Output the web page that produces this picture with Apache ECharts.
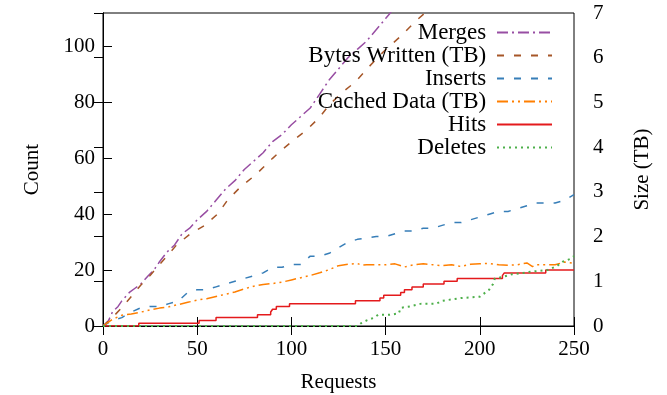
<!DOCTYPE html>
<html>
<head>
<meta charset="utf-8">
<script src="https://cdn.jsdelivr.net/npm/echarts@6/dist/echarts.min.js"></script>
<style>
html,body{margin:0;padding:0;background:#fff;}
#chart{width:667px;height:395px;}
</style>
</head>
<body>
<div id="chart"></div>
<script>
// ---- data (x = requests) ----
var xTicks = [0, 50, 100, 150, 200, 250];
var countTicks = [0, 20, 40, 60, 80, 100];
var sizeTicks = [0, 1, 2, 3, 4, 5, 6, 7];

var seriesNames = ['Merges', 'Bytes Written (TB)', 'Inserts', 'Cached Data (TB)', 'Hits', 'Deletes'];

var mergesX = [0,3,5,8,10,14,17,20,24,27,30,34,38,42,46,50,55,60,65,70,75,80,85,90,95,100,105,110,115,120,125,130,135,140,145,150,155];
var mergesY = [0,2,5,7,9,12,13.5,15,18,20,23,26.5,29,33,35,38,41,45,49,52,56,59,62,66,68.5,72,75,78,83,88,92,96,99,102,106,110,114];

var bytesX = [0,5,10,13,20,25,32,39,46,54,61,66,73,81,90,95,101,108,115,120,126,134,141,149,158,166,172,176];
var bytesTB = [0,0.19,0.41,0.56,0.91,1.13,1.47,1.81,2.05,2.25,2.51,2.81,3.11,3.38,3.75,3.94,4.15,4.38,4.67,4.94,5.19,5.46,5.79,6.14,6.48,6.82,7.04,7.2];

var insertsX = [0,5,10,15,20,25,30,35,40,45,50,55,60,65,70,75,80,85,90,95,100,105,110,115,120,125,130,135,140,145,150,155,160,165,170,175,180,185,190,195,200,205,210,215,220,225,230,235,240,245,250];
var insertsY = [0,2,3,5,6.5,7,7,8,9,12,13,13,14,15,16,17,18,19,21,21,22,22,25,25,26,28,30,31,31.5,32,32,33,34,34,35,35,36,37,37,38,39,40,41,41,42,43,44,44,44,45,47];

var cachedX = [0,5,10,15,20,25,30,35,40,45,50,55,60,65,70,75,80,85,90,95,100,105,110,115,120,125,130,135,137,140,145,150,155,160,165,170,175,180,185,190,195,200,205,210,215,220,225,228,230,235,240,245,250];
var cachedTB = [0,0.15,0.24,0.27,0.31,0.36,0.40,0.43,0.48,0.53,0.58,0.61,0.66,0.71,0.76,0.83,0.89,0.93,0.95,0.98,1.03,1.08,1.13,1.19,1.26,1.35,1.38,1.40,1.36,1.37,1.37,1.37,1.39,1.32,1.37,1.39,1.37,1.35,1.37,1.33,1.38,1.39,1.40,1.37,1.36,1.37,1.41,1.33,1.37,1.37,1.37,1.43,1.40];

var hitsX = [0,19,51,60,82,89,90,92,99,134,147,149,158,160,164,170,181,188,212,213,235,250];
var hitsY = [0,1,2,3,4,5,6,7,8,9,10,11,12,13,14,15,16,17,18,19,20,20];

var deletesX = [0,135,137,140,144,146,152,157,158,163,169,177,180,190,200,203,205,207,208,212,217,223,228,236,241,244,248,250];
var deletesY = [0,0,1,2,3,4,4,4.5,6.5,7,8,8,9,10,10.5,12,13,15,17,17.5,18.5,19,19.5,20,21.5,23,24,25];

function pairs(xs, ys){ return xs.map(function(x,i){ return [x, ys[i]]; }); }

var FONT = 'Liberation Serif';
var FS = 21;

var chart = echarts.init(document.getElementById('chart'), null, {renderer:'canvas'});
var tickStyle = {show:true, inside:true, length:9, lineStyle:{color:'#000', width:1}};
var axisLine = {show:true, lineStyle:{color:'#000', width:1}};

function lineSeries(name, data, color, dash, yIdx, width, step){
  var s = {
    name: name, type:'line', data: data, yAxisIndex: yIdx,
    symbol:'none', showSymbol:false, clip:true,
    lineStyle:{color:color, width:width, type:dash},
    itemStyle:{color:color},
    emphasis:{disabled:true},
    z: 3
  };
  if (step) s.step = step;
  return s;
}

var option = {
  animation:false,
  backgroundColor:'#fff',
  textStyle:{fontFamily:FONT},
  grid:{left:103, right:93, top:13, bottom:69, show:true, borderColor:'#000', borderWidth:1,
        backgroundColor:'transparent', containLabel:false, outerBoundsMode:'none'},
  legend:{
    orient:'vertical', right:114, top:21, align:'right', padding:0,
    itemWidth:55, itemHeight:14, itemGap:0,
    itemStyle:{color:'rgba(0,0,0,0)', borderColor:'rgba(0,0,0,0)', borderWidth:0, opacity:0},
    textStyle:{fontFamily:FONT, fontSize:23, color:'#000'},
    formatter:function(n){ return n + ' '; },
    selectedMode:false,
    data: seriesNames
  },
  xAxis:[
    {type:'value', min:xTicks[0], max:xTicks[xTicks.length-1], interval:xTicks[1]-xTicks[0], position:'bottom',
     name:'Requests', nameLocation:'middle', nameGap:46,
     nameTextStyle:{fontFamily:FONT, fontSize:FS, color:'#000'},
     axisLine:axisLine, axisTick:tickStyle,
     axisLabel:{fontFamily:FONT, fontSize:FS, color:'#000', margin:13},
     splitLine:{show:false}},
    {type:'value', min:xTicks[0], max:xTicks[xTicks.length-1], interval:xTicks[1]-xTicks[0], position:'top',
     axisLine:axisLine, axisTick:tickStyle, axisLabel:{show:false}, splitLine:{show:false}}
  ],
  yAxis:[
    {type:'value', min:0, max:112, interval:countTicks[1]-countTicks[0], position:'left',
     name:'Count', nameLocation:'middle', nameGap:60, nameRotate:90,
     nameTextStyle:{fontFamily:FONT, fontSize:FS, color:'#000'},
     axisLine:axisLine, axisTick:tickStyle,
     axisLabel:{fontFamily:FONT, fontSize:FS, color:'#000', margin:8, showMaxLabel:false},
     splitLine:{show:false}},
    {type:'value', min:sizeTicks[0], max:sizeTicks[sizeTicks.length-1], interval:1, position:'right',
     name:'Size (TB)', nameLocation:'middle', nameGap:58, nameRotate:90,
     nameTextStyle:{fontFamily:FONT, fontSize:FS, color:'#000'},
     axisLine:axisLine, axisTick:tickStyle,
     axisLabel:{fontFamily:FONT, fontSize:FS, color:'#000', margin:19},
     splitLine:{show:false}}
  ],
  series:[
    lineSeries(seriesNames[0], pairs(mergesX, mergesY), '#984ea3', [11,4,2,4], 0, 1.5),
    lineSeries(seriesNames[1], pairs(bytesX, bytesTB), '#a65628', [7,10], 1, 1.5),
    lineSeries(seriesNames[2], pairs(insertsX, insertsY), '#377eb8', [7,10], 0, 1.5),
    lineSeries(seriesNames[3], pairs(cachedX, cachedTB), '#ff7f00', [11,4,2,4,2,4], 1, 1.5),
    lineSeries(seriesNames[4], pairs(hitsX, hitsY), '#e41a1c', 'solid', 0, 1.5, 'end'),
    lineSeries(seriesNames[5], pairs(deletesX, deletesY), '#4daf4a', [2,4], 0, 2)
  ]
};
chart.setOption(option);
</script>
</body>
</html>
